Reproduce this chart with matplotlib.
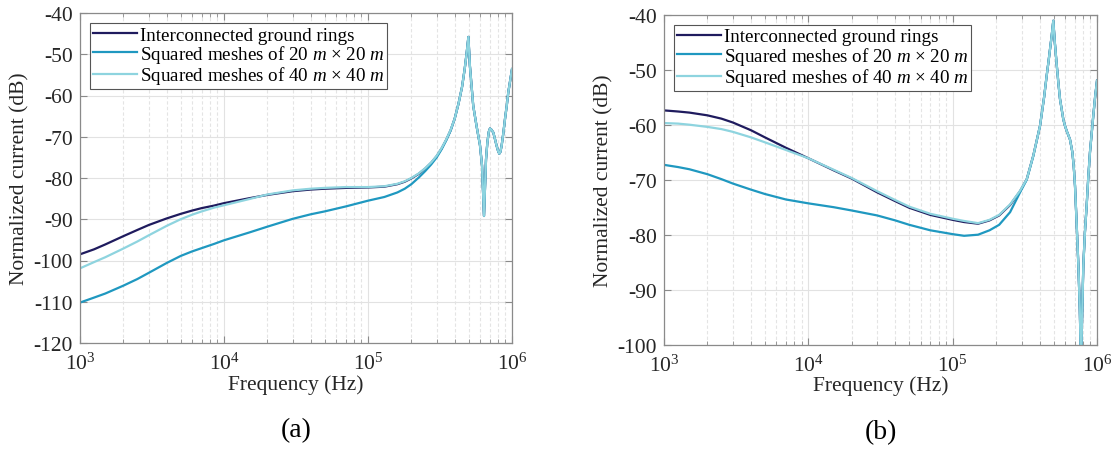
import numpy as np
import matplotlib
matplotlib.use("Agg")
import matplotlib.pyplot as plt
from matplotlib.ticker import NullFormatter, LogLocator

plt.rcParams['font.family'] = ['Liberation Serif', 'DejaVu Serif']
plt.rcParams['mathtext.fontset'] = 'custom'
plt.rcParams['mathtext.rm'] = 'Liberation Serif'
plt.rcParams['mathtext.it'] = 'Liberation Serif:italic'
plt.rcParams['mathtext.bf'] = 'Liberation Serif:bold'
plt.rcParams['axes.unicode_minus'] = False

labels = ['Interconnected ground rings',
          'Squared meshes of 20 $m$ $\\times$ 20 $m$',
          'Squared meshes of 40 $m$ $\\times$ 40 $m$']
colors = ['#1f1b5e', '#1f98c0', '#8ed4df']

# ---------- panel (a) ----------
freq_a = [1e3, 1.25e3, 1.5e3, 2e3, 2.5e3, 3e3, 4e3, 5e3, 6e3, 7e3, 8.5e3, 1e4, 1.5e4,
          2e4, 3e4, 4e4, 5e4, 7e4, 1e5, 1.3e5, 1.6e5, 1.8e5, 2e5, 2.25e5, 2.5e5, 2.75e5,
          3e5, 3.25e5, 3.5e5, 3.75e5, 4e5, 4.25e5, 4.5e5, 4.7e5, 4.85e5, 4.98e5, 5.1e5,
          5.38e5, 5.68e5, 5.99e5, 6.19e5, 6.39e5, 6.6e5, 6.74e5, 6.9e5, 7.03e5, 7.2e5,
          7.42e5, 7.62e5, 7.82e5, 8.0e5, 8.16e5, 8.3e5, 8.47e5, 8.7e5, 8.94e5, 9.2e5,
          9.42e5, 9.7e5, 1e6]
tail_a = [-65.6, -62.0, -57.9, -53.4, -49.5, -45.8, -52.8, -62.5, -67.5, -72.0, -76.9,
          -89.2, -75.5, -71.5, -68.8, -68.0, -68.3, -69.0, -70.6, -72.2, -73.4, -74.1,
          -73.7, -72.2, -69.2, -65.7, -62.4, -59.3, -56.5, -53.6]
rings_a = [-98.5, -97.3, -96.1, -94.1, -92.6, -91.4, -89.8, -88.7, -87.9, -87.3, -86.7,
           -86.1, -84.9, -84.1, -83.2, -82.8, -82.6, -82.4, -82.3, -82.1, -81.5, -80.9,
           -80.1, -79.0, -77.7, -76.3, -74.7, -72.8, -70.7, -68.4] + tail_a
mesh20_a = [-110.2, -109.0, -108.0, -106.1, -104.5, -103.0, -100.6, -98.9, -97.8, -97.0,
            -96.0, -95.1, -93.2, -91.8, -89.9, -88.8, -88.1, -86.9, -85.5, -84.6, -83.5,
            -82.6, -81.5, -79.9, -78.3, -76.7, -75.0, -73.0, -70.8, -68.5] + tail_a
mesh40_a = [-101.9, -100.4, -99.2, -97.1, -95.4, -93.9, -91.6, -90.0, -88.9, -88.1,
            -87.2, -86.6, -85.1, -84.0, -83.0, -82.6, -82.4, -82.2, -82.2, -82.0, -81.4,
            -80.8, -80.0, -78.9, -77.6, -76.2, -74.6, -72.7, -70.6, -68.3] + tail_a

# ---------- panel (b) ----------
freq_b = [1e3, 1.25e3, 1.5e3, 2e3, 2.5e3, 3e3, 4e3, 5e3, 7e3, 1e4, 1.5e4, 2e4, 3e4,
          4e4, 5e4, 7e4, 1e5, 1.2e5, 1.5e5, 1.8e5, 2.1e5, 2.5e5, 2.93e5, 3.26e5, 3.62e5,
          4.03e5, 4.3e5, 4.48e5, 4.62e5, 4.73e5, 4.85e5, 4.98e5, 5.1e5, 5.25e5, 5.4e5,
          5.54e5, 5.7e5, 5.84e5, 6.0e5, 6.16e5, 6.33e5, 6.5e5, 6.62e5, 6.75e5, 6.9e5,
          7.04e5, 7.2e5, 7.43e5, 7.6e5, 7.75e5, 7.9e5, 8.04e5, 8.25e5, 8.48e5, 8.7e5,
          8.94e5, 9.2e5, 9.43e5, 9.7e5, 1e6]
tail_b = [-60.2, -55.0, -51.1, -48.4, -46.2, -43.9, -41.1, -45.0, -48.9, -52.4, -55.3,
          -57.3, -59.0, -60.2, -61.1, -61.9, -62.7, -63.8, -65.0, -67.6, -71.1, -77.0,
          -85.6, -93.5, -104.0, -94.0, -85.6, -79.5, -74.7, -69.6, -65.0, -61.4, -58.3,
          -55.0, -52.0]
rings_b = [-57.4, -57.6, -57.8, -58.3, -58.9, -59.6, -61.0, -62.3, -64.2, -66.1, -68.3,
           -69.8, -72.3, -73.9, -75.1, -76.4, -77.3, -77.7, -78.0, -77.4, -76.5, -74.6,
           -72.1, -69.9, -65.6] + tail_b
mesh20_b = [-67.3, -67.7, -68.1, -69.0, -69.9, -70.7, -71.8, -72.6, -73.6, -74.3, -75.0,
            -75.6, -76.5, -77.4, -78.2, -79.2, -79.9, -80.2, -80.0, -79.2, -78.2, -75.9,
            -72.3, -70.0, -65.7] + tail_b
mesh40_b = [-59.7, -59.8, -60.0, -60.4, -60.8, -61.3, -62.3, -63.2, -64.6, -66.1, -68.2,
            -69.7, -72.1, -73.7, -74.9, -76.2, -77.1, -77.5, -77.9, -77.3, -76.4, -74.5,
            -72.0, -69.9, -65.6] + tail_b

yticks_a = [-120, -110, -100, -90, -80, -70, -60, -50, -40]
yticks_b = [-100, -90, -80, -70, -60, -50, -40]
xticks = [1e3, 1e4, 1e5, 1e6]
xtick_labels = ['$10^{3}$', '$10^{4}$', '$10^{5}$', '$10^{6}$']

fig = plt.figure(figsize=(11.17, 4.52), dpi=100)
ax_a = fig.add_axes([80/1117, 1 - 344/452, 432/1117, 330/452])
ax_b = fig.add_axes([664/1117, 1 - 345.7/452, 433/1117, 330/452])

spine_c = '#8a8a8a'
panels = [(ax_a, freq_a, [rings_a, mesh20_a, mesh40_a], yticks_a, '(a)'),
          (ax_b, freq_b, [rings_b, mesh20_b, mesh40_b], yticks_b, '(b)')]

for ax, f, series, yt, tag in panels:
    for s, c, lab in zip(series, colors, labels):
        ax.plot(f, s, color=c, lw=1.6, label=lab)
    ax.set_xscale('log')
    ax.set_xlim(1e3, 1e6)
    ax.set_ylim(yt[0], yt[-1])
    ax.set_xticks(xticks)
    ax.set_xticklabels(xtick_labels)
    ax.xaxis.set_minor_locator(LogLocator(base=10, subs=np.arange(2, 10)))
    ax.xaxis.set_minor_formatter(NullFormatter())
    ax.set_yticks(yt)
    ax.set_yticklabels([str(v) for v in yt])
    ax.grid(True, which='major', color='#e2e2e2', lw=0.8, ls='-')
    ax.grid(True, which='minor', axis='x', color='#e4e4e4', lw=0.8, ls=(0, (3, 2)))
    ax.set_axisbelow(True)
    ax.tick_params(which='both', direction='in', top=True, right=True,
                   color=spine_c, labelsize=15.5, labelcolor='#262626')
    ax.tick_params(which='major', length=5, pad=5)
    ax.tick_params(which='minor', length=3)
    ax.tick_params(axis='x', pad=7)
    for sp in ax.spines.values():
        sp.set_color(spine_c)
        sp.set_linewidth(0.9)
    ax.set_xlabel('Frequency (Hz)', fontsize=15.5, color='#262626', labelpad=0)
    ax.set_ylabel('Normalized current (dB)', fontsize=15.5, color='#262626', labelpad=3)
    leg = ax.legend(loc='upper left', fontsize=13.7, frameon=True, fancybox=False,
                    edgecolor='#555555', framealpha=1, borderpad=0.15, labelspacing=-0.03,
                    handlelength=2.3, handletextpad=0.15, borderaxespad=0.55)
    leg.get_frame().set_linewidth(0.8)
    ax.text(0.5, (344 - 431) / 330, tag, transform=ax.transAxes, ha='center',
            va='center', fontsize=20)

fig.savefig('out.png', dpi=100)
